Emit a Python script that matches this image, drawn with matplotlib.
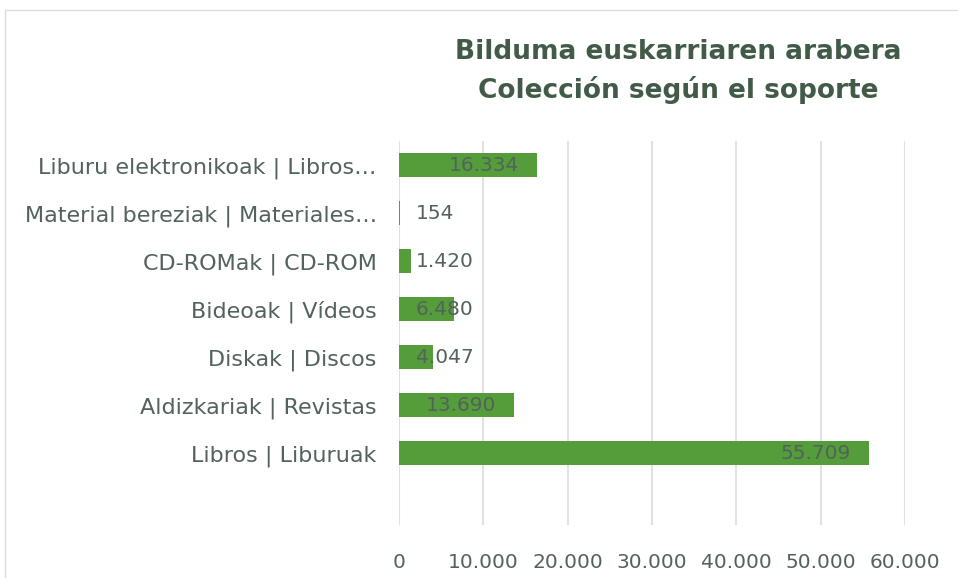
import matplotlib.pyplot as plt
from matplotlib.patches import Rectangle
from matplotlib.ticker import FuncFormatter

# data (bottom to top, as drawn)
categories = [
    "Libros | Liburuak",
    "Aldizkariak | Revistas",
    "Diskak | Discos",
    "Bideoak | Vídeos",
    "CD-ROMak | CD-ROM",
    "Material bereziak | Materiales…",
    "Liburu elektronikoak | Libros…",
]
values = [55709, 13690, 4047, 6480, 1420, 154, 16334]
xticks = [0, 10000, 20000, 30000, 40000, 50000, 60000]

title = "Bilduma euskarriaren arabera\nColección según el soporte"

text_col = "#53625a"
title_col = "#425b48"
bar_col = "#559d3a"
grid_col = "#dde3df"

plt.rcParams["font.family"] = ["DejaVu Sans"]


def fmt(v, pos=None):
    return "{:,.0f}".format(v).replace(",", ".")


fig = plt.figure(figsize=(9.58, 5.78), dpi=100)
ax = fig.add_axes([0.4165, 0.0917, 0.5282, 0.664])

ypos = list(range(len(categories)))
ax.barh(ypos, values, height=0.5, color=bar_col, zorder=3)

for y, v in zip(ypos, values):
    if v > 10000:
        ax.annotate(fmt(v), (v, y), xytext=(-13, 0), textcoords="offset points",
                    ha="right", va="center", fontsize=14.5, color=text_col, zorder=4)
    else:
        ax.annotate(fmt(v), (0, y), xytext=(12, 0), textcoords="offset points",
                    ha="left", va="center", fontsize=14.5, color=text_col, zorder=4)

ax.set_xlim(0, 60000)
ax.set_ylim(-1.5, 6.5)
ax.set_xticks(xticks)
ax.xaxis.set_major_formatter(FuncFormatter(fmt))
ax.set_yticks(ypos)
ax.set_yticklabels(categories)
ax.tick_params(axis="both", length=0, labelsize=14.5, colors=text_col)
ax.tick_params(axis="x", pad=20)
ax.tick_params(axis="y", pad=16, labelsize=16)
ax.grid(axis="x", color=grid_col, linewidth=1.5, zorder=0)
for s in ax.spines.values():
    s.set_visible(False)

fig.text(0.708, 0.876, title, ha="center", va="center", fontsize=19,
         fontweight="bold", color=title_col, linespacing=1.5)

fig.patches.append(Rectangle((5 / 958, -0.1), 2, (568 / 578) + 0.1,
                             transform=fig.transFigure, fill=False,
                             edgecolor="#d9dedb", linewidth=1))

fig.savefig("out.png", dpi=100)
